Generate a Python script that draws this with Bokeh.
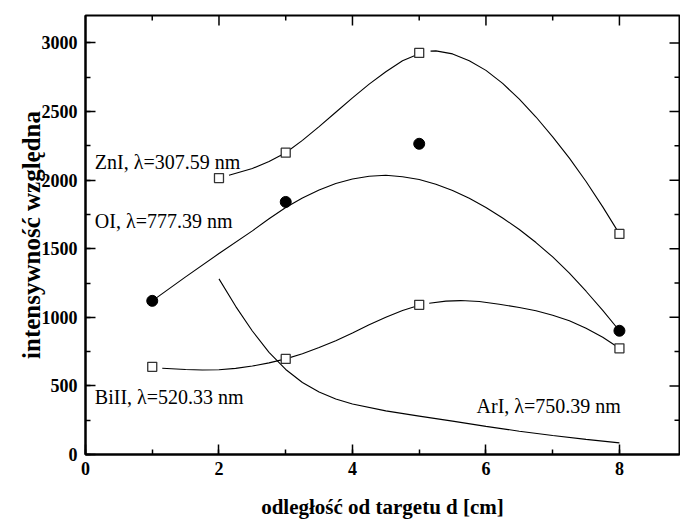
import math
from bokeh.plotting import figure
from bokeh.models import LinearAxis, Range1d, SingleIntervalTicker, ColumnDataSource
from bokeh.core.properties import value
from bokeh.embed import file_html
from bokeh.resources import INLINE

NAN = float("nan")

# measured points
zn_x = [2, 3, 5, 8]
zn_y = [2015, 2200, 2927, 1608]
oi_x = [1, 3, 5, 8]
oi_y = [1120, 1841, 2265, 902]
bi_x = [1, 3, 5, 8]
bi_y = [639, 697, 1091, 774]

# smooth curves
zn_curve_x = [2.15, 2.5, 2.75, 3.0, 3.25, 3.5, 3.75, 4.0, 4.25, 4.5, 4.75, 5.0, NAN,
              5.17, 5.25, 5.5, 5.75, 6.0, 6.25, 6.5, 6.75, 7.0, 7.25, 7.5, 7.75, 8.0]
zn_curve_y = [2035, 2085, 2135, 2200, 2290, 2390, 2495, 2600, 2700, 2790, 2870, 2922, NAN,
              2940, 2942, 2920, 2870, 2800, 2705, 2590, 2460, 2315, 2160, 1990, 1805, 1608]
oi_curve_x = [1.0, 1.5, 2.0, 2.5, 2.75, 3.0, 3.25, 3.5, 3.75, 4.0, 4.25, 4.5, 4.75, 5.0,
              5.25, 5.5, 5.75, 6.0, 6.25, 6.5, 6.75, 7.0, 7.25, 7.5, 7.75, 8.0]
oi_curve_y = [1120, 1295, 1465, 1630, 1718, 1800, 1870, 1928, 1975, 2008, 2028, 2035, 2025, 2005,
              1970, 1925, 1868, 1800, 1724, 1640, 1545, 1440, 1322, 1190, 1050, 902]
bi_curve_x = [1.15, 1.5, 1.75, 2.0, 2.25, 2.5, 2.75, 3.0, 3.25, 3.5, 3.75, 4.0, 4.25, 4.5, 4.75, 5.0, NAN,
              5.15, 5.4, 5.62, 5.9, 6.2, 6.5, 6.75, 7.0, 7.25, 7.5, 7.75, 8.0]
bi_curve_y = [629, 620, 616, 618, 628, 645, 668, 697, 735, 780, 830, 885, 945, 1000, 1050, 1088, NAN,
              1103, 1118, 1122, 1115, 1095, 1072, 1048, 1015, 975, 920, 855, 774]
ar_curve_x = [2.0, 2.25, 2.5, 2.75, 3.0, 3.25, 3.5, 3.75, 4.0, 4.5, 5.0, 5.5, 6.0, 6.5, 7.0, 7.5, 8.0]
ar_curve_y = [1280, 1080, 900, 745, 620, 525, 455, 405, 368, 318, 280, 243, 205, 170, 138, 110, 85]

label_x = [0.14, 0.14, 0.14, 5.86]
label_y = [2133, 1700, 421, 356]
label_text = ["ZnI, \u03bb=307.59 nm", "OI, \u03bb=777.39 nm", "BiII, \u03bb=520.33 nm", "ArI, \u03bb=750.39 nm"]

# mirrored tick positions for the top and right frame edges
top_major = [2, 4, 6, 8]
top_minor = [1, 3, 5, 7]
right_major = [500, 1000, 1500, 2000, 2500, 3000]
right_minor = [250, 750, 1250, 1750, 2250, 2750]

X_MAX = 8.9
Y_MAX = 3200
FONT = "Liberation Serif"

p = figure(width=680, height=521, x_range=Range1d(0, X_MAX), y_range=Range1d(0, Y_MAX),
           output_backend="svg", toolbar_location=None,
           min_border_left=85, min_border_right=1, min_border_top=15, min_border_bottom=65,
           x_axis_location=None, y_axis_location=None)
p.xgrid.visible = False
p.ygrid.visible = False
p.outline_line_color = "black"
p.outline_line_width = 2
p.background_fill_color = "white"
p.border_fill_color = "white"


def style(ax):
    ax.axis_line_width = 2
    ax.axis_line_color = "black"
    ax.major_tick_in = 10
    ax.major_tick_out = 0
    ax.minor_tick_in = 5
    ax.minor_tick_out = 0
    ax.major_tick_line_width = 1.5
    ax.minor_tick_line_width = 1.5
    ax.major_tick_line_color = "black"
    ax.minor_tick_line_color = "black"
    ax.major_label_text_font = FONT
    ax.major_label_text_font_style = "bold"
    ax.major_label_text_font_size = "18px"
    ax.major_label_text_color = "black"
    ax.axis_label_text_font = FONT
    ax.axis_label_text_font_style = "bold"
    ax.axis_label_text_color = "black"


xb = LinearAxis(ticker=SingleIntervalTicker(interval=2, num_minor_ticks=2),
                axis_label="odleg\u0142o\u015b\u0107 od targetu d [cm]")
style(xb)
xb.major_label_standoff = 7
xb.axis_label_standoff = 17
xb.axis_label_text_font_size = "21px"
p.add_layout(xb, "below")

yl = LinearAxis(ticker=SingleIntervalTicker(interval=500, num_minor_ticks=2),
                axis_label="intensywno\u015b\u0107 wzgl\u0119dna")
style(yl)
yl.major_label_standoff = 8
yl.axis_label_standoff = -6
yl.axis_label_text_font_size = "25px"
p.add_layout(yl, "left")

# mirrored ticks (inward) on top and right edges
p.scatter(top_major, [Y_MAX] * len(top_major), marker="dash", angle=math.pi / 2, size=20,
          line_color="black", line_width=1.5)
p.scatter(top_minor, [Y_MAX] * len(top_minor), marker="dash", angle=math.pi / 2, size=10,
          line_color="black", line_width=1.5)
p.scatter([X_MAX] * len(right_major), right_major, marker="dash", size=20,
          line_color="black", line_width=1.5)
p.scatter([X_MAX] * len(right_minor), right_minor, marker="dash", size=10,
          line_color="black", line_width=1.5)

# curves
for cx, cy in [(zn_curve_x, zn_curve_y), (oi_curve_x, oi_curve_y),
               (bi_curve_x, bi_curve_y), (ar_curve_x, ar_curve_y)]:
    p.line(cx, cy, line_color="black", line_width=1.1)

# markers
p.scatter(zn_x, zn_y, marker="square", size=9, fill_color="white", line_color="#333333", line_width=1.3)
p.scatter(bi_x, bi_y, marker="square", size=9, fill_color="white", line_color="#333333", line_width=1.3)
p.scatter(oi_x, oi_y, marker="circle", size=11, fill_color="black", line_color="black")

src = ColumnDataSource(dict(x=label_x, y=label_y, t=label_text))
p.text("x", "y", text="t", source=src, text_font=value(FONT), text_font_size="20px",
       text_baseline="middle", text_align="left", text_color="black")

open("out.html", "w").write(file_html(p, INLINE))
